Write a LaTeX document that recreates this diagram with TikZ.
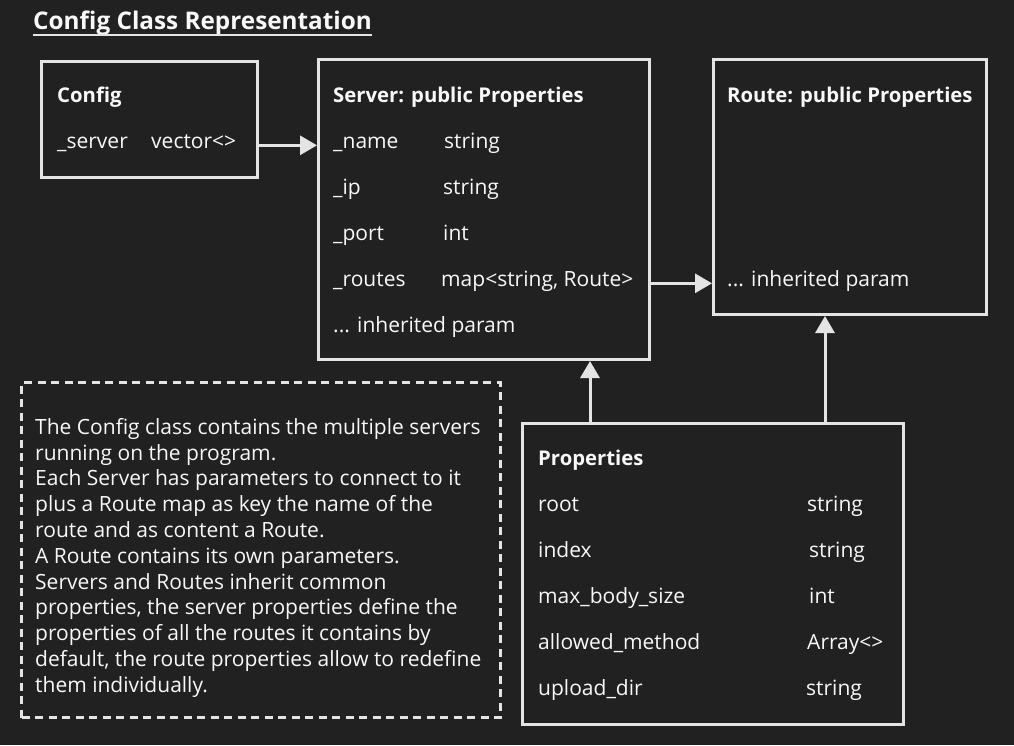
\documentclass[tikz,border=0pt]{standalone}
\usepackage{fontspec}
\setmainfont{Open Sans}
\usetikzlibrary{arrows.meta}
\definecolor{bgcol}{RGB}{33,33,33}
\definecolor{linecol}{RGB}{228,228,228}
\definecolor{txtcol}{RGB}{248,248,248}
\tikzset{
  classbox/.style={draw=linecol, line width=3pt, anchor=north west, inner sep=0pt},
  field/.style={anchor=base west, inner sep=0pt, text=txtcol, font=\fontsize{21}{25}\selectfont},
  head/.style={field, font=\fontsize{20.3}{24}\selectfont\bfseries},
  arr/.style={draw=linecol, line width=3pt, -{Triangle[length=17pt,width=19pt]}},
}
\begin{document}
\begin{tikzpicture}[x=1pt,y=-1pt]
    \fill[bgcol] (0,0) rectangle (1014,745);
    \useasboundingbox (0,0) rectangle (1014,745);
    \node[head, font=\fontsize{24.3}{28}\selectfont\bfseries] (title) at (33,29) {Config Class Representation};
    \draw[linecol, line width=2pt] (title.south west) -- (title.south east);
    \node[classbox, minimum width=216pt, minimum height=116pt] (config) at (40,60) {};
    \node[classbox, minimum width=331pt, minimum height=300pt] (server) at (317,58) {};
    \node[classbox, minimum width=273pt, minimum height=255pt] (route) at (712,58) {};
    \node[classbox, minimum width=381pt, minimum height=301pt] (props) at (521,422) {};
    \node[classbox, dash pattern=on 8pt off 5.5pt, minimum width=479pt, minimum height=335pt] (noteframe) at (20,381) {};
    \node[head] (cfghead) at (57,102) {Config};
    \node[field] (cfgsrv) at (57,148) {\_server};
    \node[field] (cfgvec) at (151,148) {vector<>};
    \node[head] (srvhead) at (333,102) {Server: public Properties};
    \node[field] (srvname) at (333,148) {\_name};
    \node[field] (srvnamet) at (444,148) {string};
    \node[field] (srvip) at (333,194) {\_ip};
    \node[field] (srvipt) at (443,194) {string};
    \node[field] (srvport) at (333,240) {\_port};
    \node[field] (srvportt) at (443,240) {int};
    \node[field] (srvroutes) at (333,286) {\_routes};
    \node[field] (srvroutest) at (441,286) {map<string, Route>};
    \node[field] (srvinh) at (333,332) {... inherited param};
    \node[head] (rthead) at (727,102) {Route: public Properties};
    \node[field] (rtinh) at (727,286) {... inherited param};
    \node[head] (prhead) at (538,465) {Properties};
    \node[field] (prroot) at (538,511) {root};
    \node[field] (prroott) at (807,511) {string};
    \node[field] (prindex) at (538,557) {index};
    \node[field] (prindext) at (809,557) {string};
    \node[field] (prmax) at (538,603) {max\_body\_size};
    \node[field] (prmaxt) at (809,603) {int};
    \node[field] (prmeth) at (538,649) {allowed\_method};
    \node[field] (prmetht) at (807,649) {Array<>};
    \node[field] (prdir) at (538,695) {upload\_dir};
    \node[field] (prdirt) at (806,695) {string};
    \node[field, anchor=north west, align=left, font=\fontsize{21}{25.8}\selectfont] (note) at (35,418) {The Config class contains the multiple servers\\running on the program.\\Each Server has parameters to connect to it\\plus a Route map as key the name of the\\route and as content a Route.\\A Route contains its own parameters.\\Servers and Routes inherit common\\properties, the server properties define the\\properties of all the routes it contains by\\default, the route properties allow to redefine\\them individually.};
    \coordinate (upsrv) at (590,0);
    \coordinate (uprt) at (825,0);
    \draw[arr] (config.east |- cfgsrv.mid) -- (server.west |- cfgsrv.mid);
    \draw[arr] (server.east |- srvroutes.mid) -- (route.west |- srvroutes.mid);
    \draw[arr] (upsrv |- props.north) -- (upsrv |- server.south);
    \draw[arr] (uprt |- props.north) -- (uprt |- route.south);
\end{tikzpicture}
\end{document}
